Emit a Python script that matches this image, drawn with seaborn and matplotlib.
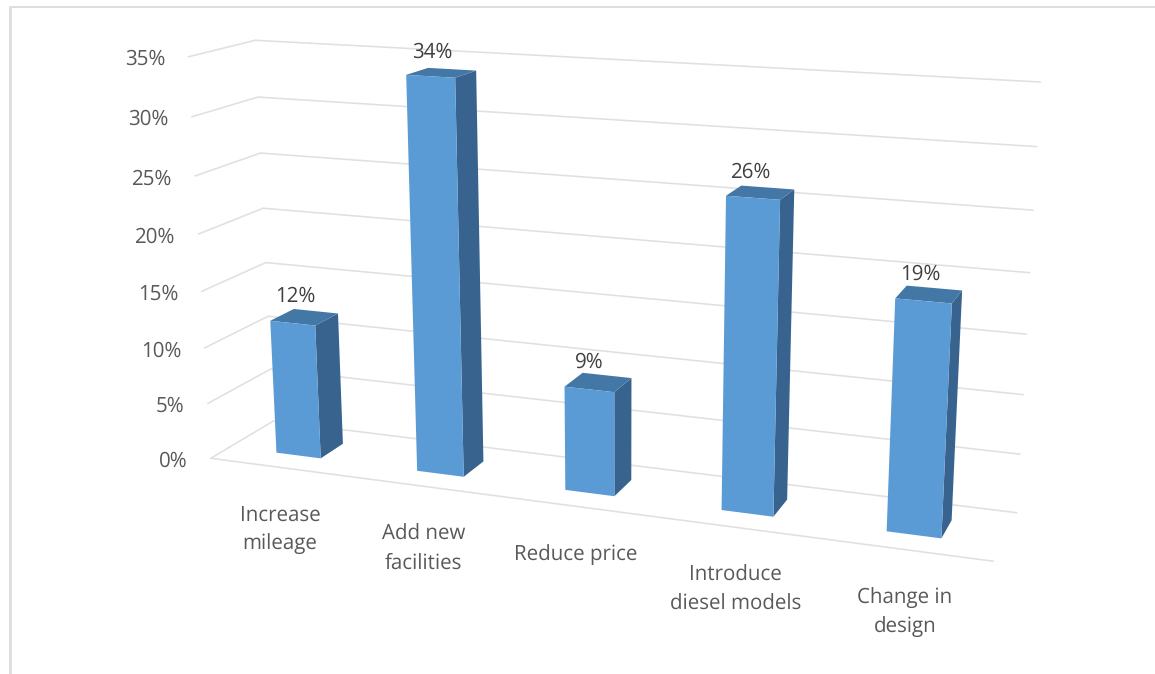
import numpy as np
import pandas as pd
import seaborn as sns
import matplotlib
matplotlib.use("Agg")
import matplotlib.pyplot as plt
from matplotlib.lines import Line2D
from matplotlib.transforms import Transform, IdentityTransform

categories = ["Increase\nmileage", "Add new\nfacilities", "Reduce price",
              "Introduce\ndiesel models", "Change in\ndesign"]
values = [12, 34, 9, 26, 19]
y_ticks = [0, 5, 10, 15, 20, 25, 30, 35]

WIDTH, HEIGHT = 1155, 674
BAR_WIDTH = 0.32
DEPTH_FRONT, DEPTH_BACK = 0.30, 0.68

# Perspective camera: (category position, value, depth) -> image pixels
CAMERA = np.array([
    [131.215, -0.919728, 77.8298, 210.786],
    [6.29215, -11.5551, -13.385, 458.279],
    [-0.0254772, -0.00148498, 0.0564556, 1.0],
])

def project(u, v, w):
    q = CAMERA @ np.array([u, v, w, 1.0])
    return q[0] / q[2], HEIGHT - q[1] / q[2]


class WallTransform(Transform):
    """Map seaborn's (category index, value) onto a plane at fixed depth."""
    input_dims = output_dims = 2
    is_affine = False

    def __init__(self, plane):
        super().__init__()
        self.plane = plane

    def transform_non_affine(self, xy):
        xy = np.asarray(xy, float)
        return np.array([project(x + 0.5, y, self.plane) for x, y in xy]).reshape(-1, 2)


sns.set_theme(style="white")
plt.rcParams["font.family"] = ["Open Sans", "DejaVu Sans"]
plt.rcParams["text.hinting"] = "no_hinting"

fig = plt.figure(figsize=(WIDTH / 100, HEIGHT / 100), dpi=100, facecolor="white")
ax = fig.add_axes([0, 0, 1, 1])

df = pd.DataFrame({"category": categories, "value": values})
sns.barplot(data=df, x="category", y="value", color="#5B9BD5", saturation=1,
            width=BAR_WIDTH, ax=ax, zorder=5)
ax.set_axis_off()
ax.set_xlim(0, WIDTH)
ax.set_ylim(0, HEIGHT)

front = WallTransform(DEPTH_FRONT)
for bar in ax.patches:
    bar.set_transform(front)
    bar.set_clip_on(False)
    bar.set_linewidth(0)

px = IdentityTransform()
GRID = "#E0E0E0"
GRID_LW = 1.15
FONT = 14.8

def segment(a, b):
    p, q = project(*a), project(*b)
    ax.add_line(Line2D([p[0], q[0]], [p[1], q[1]], color=GRID, lw=GRID_LW,
                       transform=px, clip_on=False, zorder=1))

n = len(categories)
for t in y_ticks:
    segment((0, t, 0), (0, t, 1))
    segment((0, t, 1), (n, t, 1))
    x, y = project(0, t, 0)
    ax.text(x - 23, y - 3, f"{t}%", transform=px, ha="right", va="center",
            fontsize=FONT, color="#595959")
segment((0, 0, 0), (n, 0, 0))

for i, val in enumerate(values):
    c = i + 0.5
    l, r = c - BAR_WIDTH / 2, c + BAR_WIDTH / 2
    side = [project(r, 0, DEPTH_FRONT), project(r, 0, DEPTH_BACK),
            project(r, val, DEPTH_BACK), project(r, val, DEPTH_FRONT)]
    top = [project(l, val, DEPTH_FRONT), project(r, val, DEPTH_FRONT),
           project(r, val, DEPTH_BACK), project(l, val, DEPTH_BACK)]
    ax.fill(*zip(*side), color="#37638E", lw=0, transform=px, clip_on=False, zorder=4)
    ax.fill(*zip(*top), color="#4377A6", lw=0, transform=px, clip_on=False, zorder=4)

    x, y = project(c, val, (DEPTH_FRONT + DEPTH_BACK) / 2)
    ax.text(x - 9, y + 20.5, f"{val}%", transform=px, ha="center", va="center",
            fontsize=FONT, color="#404040", zorder=6)

    x, y = project(c, 0, 0)
    ax.text(x, y - 38, categories[i], transform=px, ha="center", va="top",
            fontsize=FONT, color="#595959", linespacing=1.5)

# Light frame along the top and left of the picture
fig.add_artist(Line2D([10 / WIDTH, 1], [1 - 6.5 / HEIGHT] * 2, color="#DEDEDE", lw=1.4))
fig.add_artist(Line2D([10 / WIDTH] * 2, [0, 1 - 6.5 / HEIGHT], color="#DEDEDE", lw=2))

fig.savefig("out.png", dpi=100, facecolor="white")
